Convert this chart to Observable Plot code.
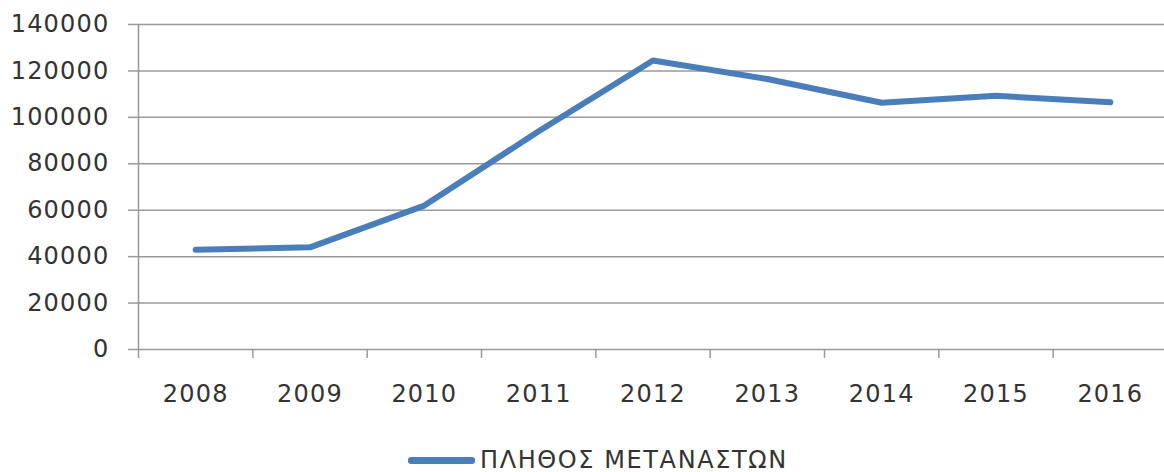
<!DOCTYPE html>
<html><head><meta charset="utf-8">
<script src="https://cdn.jsdelivr.net/npm/d3@7"></script>
<script src="https://cdn.jsdelivr.net/npm/@observablehq/plot@0.6"></script>
<style>
html,body{margin:0;padding:0;background:#fff;overflow:hidden;width:1164px;height:472px}
#chart{position:absolute;left:0;top:0;width:1164px;overflow:hidden}
#legend{position:absolute;left:408px;top:446px;display:flex;align-items:center;font-family:"DejaVu Sans";font-size:24px;color:#333;white-space:nowrap;letter-spacing:1.6px}
.sw{display:inline-block;width:67px;height:7px;background:#4a7ebb;border-radius:3px;margin-right:5px}
</style></head><body><div id="chart"></div><div id="legend"><span class="sw"></span><span id="lt"></span></div>
<script>
const years = [2008, 2009, 2010, 2011, 2012, 2013, 2014, 2015, 2016];
const migrants = [43000, 44000, 62000, 94000, 124500, 116500, 106300, 109300, 106500];
const yTicks = [0, 20000, 40000, 60000, 80000, 100000, 120000, 140000];
const seriesName = "ΠΛΗΘΟΣ ΜΕΤΑΝΑΣΤΩΝ";

const data = years.map((year, i) => ({year, value: migrants[i]}));
const bandEdges = years.map(y => y - 0.5);

const plot = Plot.plot({
  width: 1164, height: 440,
  marginLeft: 138, marginRight: 0, marginTop: 24, marginBottom: 91,
  style: {fontFamily: "DejaVu Sans", fontSize: "24px", color: "#333", background: "#fff", letterSpacing: "1.2px"},
  x: {type: "linear", domain: [2007.5, 2016.5], range: [138, 1167]},
  y: {domain: [0, 140000]},
  marks: [
    Plot.gridY(yTicks, {stroke: "#999", strokeOpacity: 1, strokeWidth: 1.5}),
    Plot.axisY({ticks: yTicks, tickSize: 10, tickPadding: 19, tickFormat: d => String(d), stroke: "#999", strokeOpacity: 1, strokeWidth: 1.5, label: null}),
    Plot.ruleX([2007.5], {y1: 0, y2: 140000, stroke: "#999", strokeWidth: 1.5}),
    Plot.axisX({ticks: bandEdges, tickSize: 9, tickFormat: () => "", stroke: "#999", strokeOpacity: 1, strokeWidth: 1.5, label: null}),
    Plot.axisX({ticks: years, tickSize: 0, tickPadding: 35, tickFormat: d => String(d), label: null}),
    Plot.line(data, {x: "year", y: "value", stroke: "#4a7ebb", strokeWidth: 6, strokeLinejoin: "round", strokeLinecap: "round"})
  ]
});
document.getElementById("chart").appendChild(plot);
document.getElementById("lt").textContent = seriesName;
</script>
</body></html>
